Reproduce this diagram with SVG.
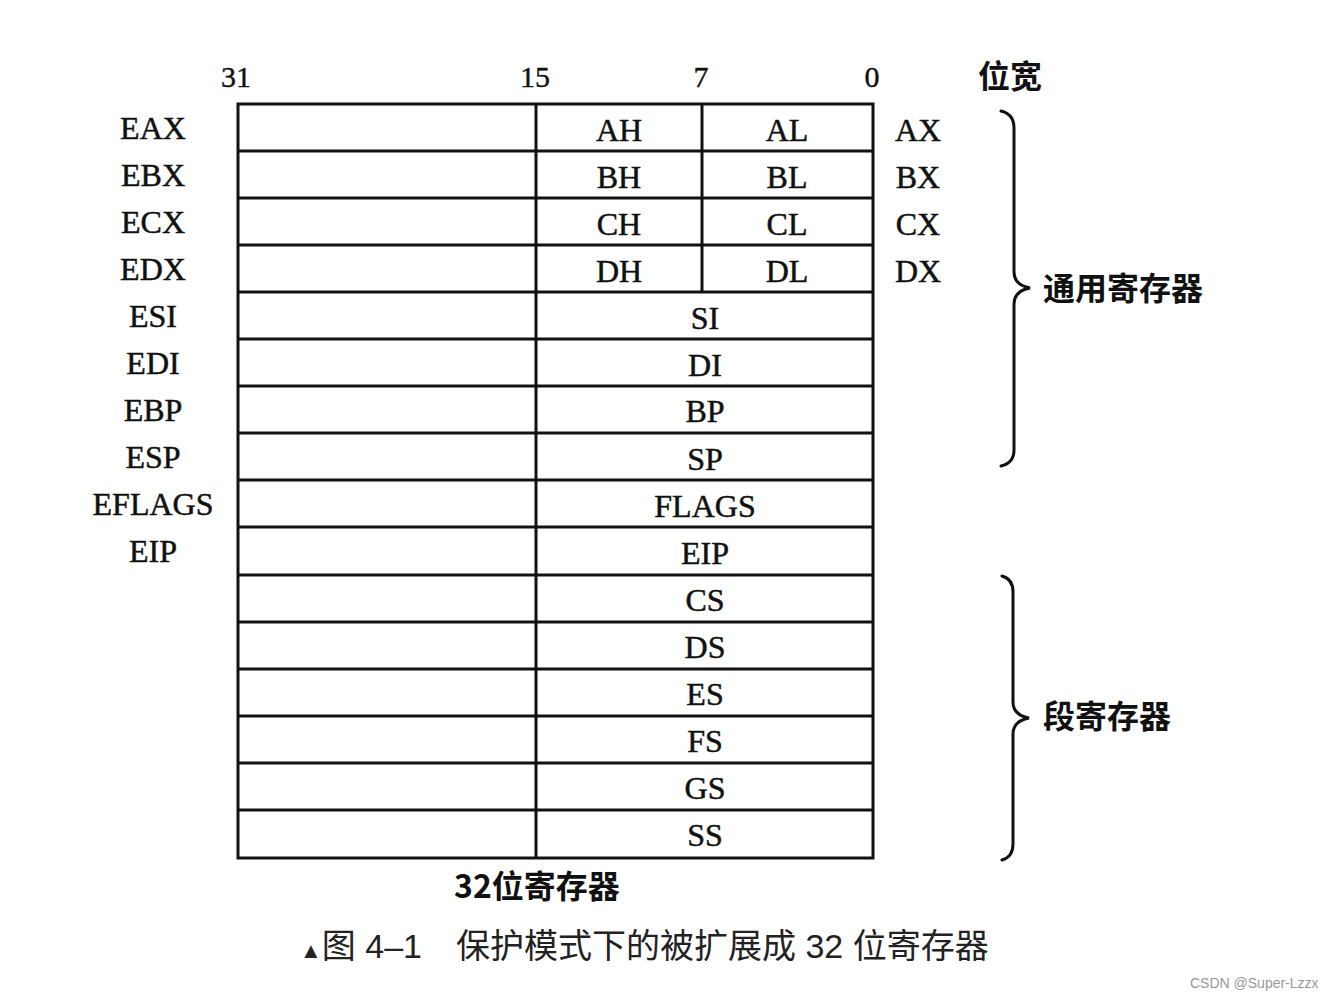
<svg xmlns="http://www.w3.org/2000/svg" width="1342" height="1000" viewBox="0 0 1342 1000">
<style>
.r{font-family:"Liberation Serif","Noto Sans CJK SC",serif;font-size:32px;fill:#111;text-anchor:middle;stroke:#111;stroke-width:0.5}
.n{font-family:"Liberation Serif",serif;font-size:30px;fill:#111;text-anchor:middle;stroke:#111;stroke-width:0.4}
.cj{font-family:"Noto Sans CJK SC",sans-serif;font-size:32px;font-weight:bold;fill:#111}
.cap{font-family:"Liberation Sans","Noto Sans CJK SC",sans-serif;font-size:34px;fill:#222}
.ln{stroke:#111;stroke-width:3;fill:none}
.br{stroke:#111;stroke-width:3;fill:none;stroke-linecap:round}
</style>
<rect width="1342" height="1000" fill="#fff"/>
<g id="bit-labels">
<text class="n" x="236" y="87">31</text>
<text class="n" x="535" y="87">15</text>
<text class="n" x="701" y="87">7</text>
<text class="n" x="872" y="87">0</text>
<text class="cj" x="978" y="88">位宽</text>
</g>
<g id="table">
<rect class="ln" x="238" y="104" width="635" height="754"/>
<line class="ln" x1="536" y1="104" x2="536" y2="858"/>
<line class="ln" x1="702" y1="104" x2="702" y2="292"/>
<g id="rows" class="ln">
<line x1="238" y1="151" x2="873" y2="151"/>
<line x1="238" y1="198" x2="873" y2="198"/>
<line x1="238" y1="245" x2="873" y2="245"/>
<line x1="238" y1="292" x2="873" y2="292"/>
<line x1="238" y1="339" x2="873" y2="339"/>
<line x1="238" y1="386" x2="873" y2="386"/>
<line x1="238" y1="433" x2="873" y2="433"/>
<line x1="238" y1="480" x2="873" y2="480"/>
<line x1="238" y1="527" x2="873" y2="527"/>
<line x1="238" y1="575" x2="873" y2="575"/>
<line x1="238" y1="622" x2="873" y2="622"/>
<line x1="238" y1="669" x2="873" y2="669"/>
<line x1="238" y1="716" x2="873" y2="716"/>
<line x1="238" y1="763" x2="873" y2="763"/>
<line x1="238" y1="810" x2="873" y2="810"/>
</g>
</g>
<g id="left-labels">
<text class="r" x="153" y="139">EAX</text>
<text class="r" x="153" y="186">EBX</text>
<text class="r" x="153" y="233">ECX</text>
<text class="r" x="153" y="280">EDX</text>
<text class="r" x="153" y="327">ESI</text>
<text class="r" x="153" y="374">EDI</text>
<text class="r" x="153" y="421">EBP</text>
<text class="r" x="153" y="468">ESP</text>
<text class="r" x="153" y="515">EFLAGS</text>
<text class="r" x="153" y="562">EIP</text>
</g>
<g id="cell-labels">
<text class="r" x="619" y="141">AH</text>
<text class="r" x="787" y="141">AL</text>
<text class="r" x="619" y="188">BH</text>
<text class="r" x="787" y="188">BL</text>
<text class="r" x="619" y="235">CH</text>
<text class="r" x="787" y="235">CL</text>
<text class="r" x="619" y="282">DH</text>
<text class="r" x="787" y="282">DL</text>
<text class="r" x="705" y="329">SI</text>
<text class="r" x="705" y="376">DI</text>
<text class="r" x="705" y="422">BP</text>
<text class="r" x="705" y="470">SP</text>
<text class="r" x="705" y="517">FLAGS</text>
<text class="r" x="705" y="564">EIP</text>
<text class="r" x="705" y="611">CS</text>
<text class="r" x="705" y="658">DS</text>
<text class="r" x="705" y="705">ES</text>
<text class="r" x="705" y="752">FS</text>
<text class="r" x="705" y="799">GS</text>
<text class="r" x="705" y="846">SS</text>
</g>
<g id="right-labels">
<text class="r" x="918" y="141">AX</text>
<text class="r" x="918" y="188">BX</text>
<text class="r" x="918" y="235">CX</text>
<text class="r" x="918" y="282">DX</text>
</g>
<g id="braces">
<path class="br" d="M1001 111 Q1014 114 1014 128 L1014 272 Q1014 285 1030 288 Q1014 291 1014 304 L1014 450 Q1014 463 1001 466"/>
<path class="br" d="M1002 576 Q1013 579 1013 592 L1013 702 Q1013 715 1029 718 Q1013 721 1013 734 L1013 844 Q1013 857 1002 860"/>
</g>
<g id="group-labels">
<text class="cj" x="1043" y="300">通用寄存器</text>
<text class="cj" x="1043" y="728">段寄存器</text>
<text class="cj" x="537" y="898" text-anchor="middle">32位寄存器</text>
</g>
<g id="caption">
<text class="cap" x="300" y="958"><tspan font-size="22">▲</tspan>图 4–1　保护模式下的被扩展成 32 位寄存器</text>
<text x="1190" y="988" font-family="Liberation Sans,sans-serif" font-size="14" fill="#999">CSDN @Super-Lzzx</text>
</g>
</svg>
